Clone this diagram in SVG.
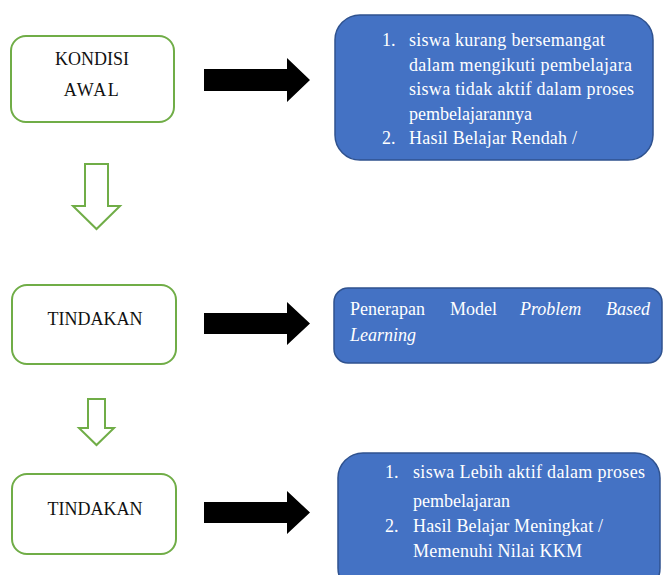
<svg xmlns="http://www.w3.org/2000/svg" width="663" height="575" viewBox="0 0 663 575">
<style>
.g{fill:#fff;stroke:#70AD47;stroke-width:2}
.b{fill:#4472C4;stroke:#2F528F;stroke-width:1.5}
.ga{fill:#fff;stroke:#70AD47;stroke-width:2;stroke-linejoin:miter}
.k{fill:#000}
.t{font-family:"Liberation Serif","Times New Roman",serif;font-size:18px;fill:#111}
.w{font-family:"Liberation Serif","Times New Roman",serif;font-size:18px;fill:#fff}
.i{font-style:italic}
</style>
<rect width="663" height="575" fill="#fff"/>
<g id="node-kondisi">
<rect class="g" x="11" y="36" width="163" height="86" rx="15"/>
<text class="t" x="92" y="65" text-anchor="middle">KONDISI</text>
<text class="t" x="92" y="96" text-anchor="middle" letter-spacing="1.5">AWAL</text>
</g>
<g id="node-tindakan1">
<rect class="g" x="12" y="285" width="164" height="79" rx="15"/>
<text class="t" x="95" y="325" text-anchor="middle">TINDAKAN</text>
</g>
<g id="node-tindakan2">
<rect class="g" x="12" y="474" width="164" height="80" rx="15"/>
<text class="t" x="95" y="515" text-anchor="middle">TINDAKAN</text>
</g>
<g id="node-masalah">
<rect class="b" x="335" y="15" width="318" height="145" rx="25"/>
<text class="w" x="382" y="46">1.</text>
<text class="w" x="409" y="46" textLength="196" lengthAdjust="spacing">siswa kurang bersemangat</text>
<text class="w" x="409" y="71" textLength="223" lengthAdjust="spacing">dalam mengikuti pembelajara</text>
<text class="w" x="409" y="95" textLength="225" lengthAdjust="spacing">siswa tidak aktif dalam proses</text>
<text class="w" x="409" y="120">pembelajarannya</text>
<text class="w" x="382" y="144">2.</text>
<text class="w" x="409" y="144" textLength="168" lengthAdjust="spacing">Hasil Belajar Rendah /</text>
</g>
<g id="node-model">
<rect class="b" x="334" y="288" width="328" height="75" rx="14"/>
<text class="w" x="350" y="315">Penerapan</text>
<text class="w" x="450" y="315">Model</text>
<text class="w i" x="520" y="315">Problem</text>
<text class="w i" x="650" y="315" text-anchor="end">Based</text>
<text class="w i" x="350" y="341">Learning</text>
</g>
<g id="node-hasil">
<rect class="b" x="338" y="453" width="322" height="140" rx="25"/>
<text class="w" x="385" y="478">1.</text>
<text class="w" x="413" y="478" textLength="232" lengthAdjust="spacing">siswa Lebih aktif dalam proses</text>
<text class="w" x="413" y="507">pembelajaran</text>
<text class="w" x="385" y="532">2.</text>
<text class="w" x="413" y="532" textLength="190" lengthAdjust="spacing">Hasil Belajar Meningkat /</text>
<text class="w" x="413" y="557" textLength="169" lengthAdjust="spacing">Memenuhi Nilai KKM</text>
</g>
<g id="connectors">
<polygon class="k" points="204,69 287,69 287,58 310,80 287,102 287,91 204,91"/>
<polygon class="k" points="204,313 287,313 287,302 310,323.5 287,345 287,334 204,334"/>
<polygon class="k" points="204,502 287,502 287,491 310,512.5 287,534 287,523 204,523"/>
<polygon class="ga" points="85,164 108,164 108,206 120,206 96.5,229 73,206 85,206"/>
<polygon class="ga" points="88,399 105,399 105,428 114,428 96.5,445 79,428 88,428"/>
</g>
</svg>
